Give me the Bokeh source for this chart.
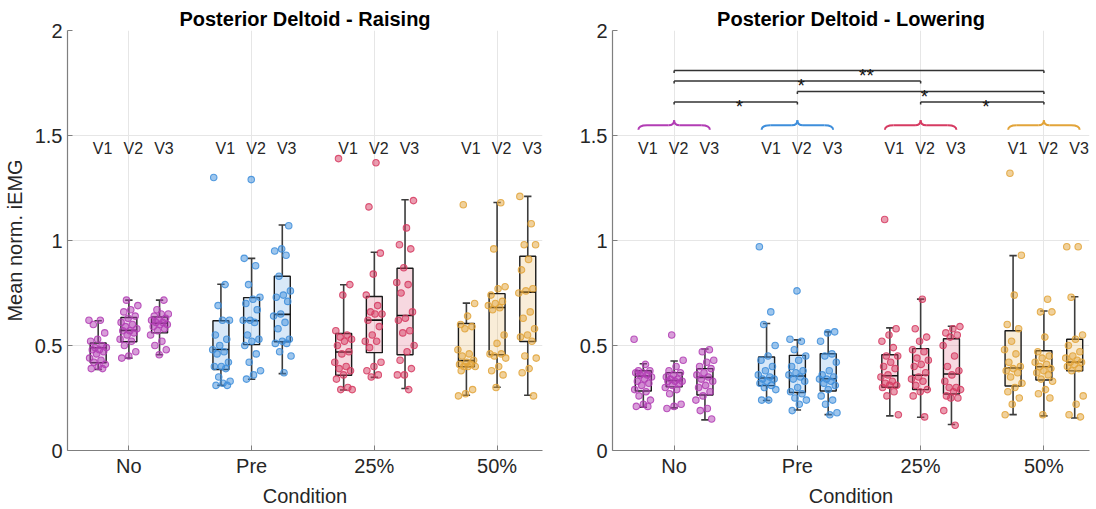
import numpy as np
from bokeh.plotting import figure
from bokeh.layouts import row
from bokeh.models import FixedTicker, CustomJSTickFormatter, Range1d
from bokeh.core.properties import value
from bokeh.embed import file_html
from bokeh.resources import INLINE

# ---------------- data ----------------
conditions = ["No", "Pre", "25%", "50%"]
visits = ["V1", "V2", "V3"]
cond_colors = ["#B23DB4", "#3E8EDB", "#D63B62", "#E2A43A"]

# Raising: individual points per condition (V1, V2, V3)
raise_no = [
    [0.62, 0.62, 0.60, 0.56, 0.53, 0.52, 0.50, 0.49, 0.49, 0.48, 0.48, 0.47, 0.46, 0.44, 0.43, 0.42, 0.41, 0.40, 0.39, 0.39],
    [0.716, 0.69, 0.67, 0.66, 0.64, 0.63, 0.61, 0.60, 0.59, 0.58, 0.57, 0.57, 0.56, 0.55, 0.53, 0.52, 0.50, 0.47, 0.45, 0.44],
    [0.716, 0.67, 0.65, 0.65, 0.64, 0.63, 0.62, 0.62, 0.61, 0.61, 0.60, 0.60, 0.59, 0.58, 0.57, 0.55, 0.52, 0.50, 0.48, 0.456],
]
raise_pre = [
    [1.30, 0.79, 0.69, 0.62, 0.62, 0.55, 0.53, 0.50, 0.48, 0.47, 0.46, 0.42, 0.40, 0.40, 0.39, 0.35, 0.33, 0.32, 0.31, 0.31],
    [1.29, 0.915, 0.88, 0.79, 0.73, 0.72, 0.70, 0.67, 0.62, 0.62, 0.61, 0.55, 0.53, 0.52, 0.50, 0.46, 0.42, 0.38, 0.36, 0.34],
    [1.07, 0.96, 0.95, 0.93, 0.83, 0.76, 0.74, 0.73, 0.71, 0.65, 0.64, 0.61, 0.58, 0.53, 0.52, 0.51, 0.51, 0.47, 0.45, 0.37],
]
raise_25 = [
    [1.39, 0.79, 0.74, 0.57, 0.55, 0.54, 0.53, 0.52, 0.50, 0.47, 0.46, 0.42, 0.40, 0.39, 0.38, 0.36, 0.34, 0.30, 0.29, 0.29],
    [1.37, 1.16, 0.94, 0.84, 0.74, 0.69, 0.66, 0.65, 0.65, 0.62, 0.59, 0.55, 0.52, 0.52, 0.49, 0.42, 0.40, 0.38, 0.36, 0.35],
    [1.19, 1.06, 0.98, 0.96, 0.87, 0.80, 0.79, 0.75, 0.66, 0.63, 0.62, 0.57, 0.56, 0.50, 0.47, 0.43, 0.39, 0.36, 0.36, 0.29],
]
raise_50 = [
    [1.17, 0.70, 0.64, 0.60, 0.59, 0.58, 0.48, 0.46, 0.45, 0.43, 0.42, 0.41, 0.41, 0.40, 0.40, 0.40, 0.38, 0.29, 0.27, 0.26],
    [1.18, 0.96, 0.78, 0.77, 0.74, 0.71, 0.70, 0.69, 0.68, 0.67, 0.55, 0.51, 0.46, 0.46, 0.45, 0.44, 0.40, 0.38, 0.36, 0.30],
    [1.21, 1.08, 0.98, 0.98, 0.91, 0.86, 0.77, 0.76, 0.75, 0.66, 0.63, 0.58, 0.55, 0.54, 0.52, 0.45, 0.44, 0.39, 0.37, 0.26],
]
# Raising box statistics, order: No V1..V3, Pre V1..V3, 25% V1..V3, 50% V1..V3
raise_q1 = [0.418, 0.518, 0.560, 0.386, 0.504, 0.518, 0.358, 0.466, 0.456, 0.399, 0.456, 0.519]
raise_med = [0.489, 0.572, 0.606, 0.481, 0.618, 0.648, 0.469, 0.621, 0.643, 0.428, 0.681, 0.754]
raise_q3 = [0.512, 0.633, 0.636, 0.618, 0.728, 0.830, 0.557, 0.733, 0.868, 0.605, 0.747, 0.925]
raise_wlo = [0.386, 0.440, 0.456, 0.310, 0.339, 0.366, 0.288, 0.348, 0.295, 0.263, 0.301, 0.263]
raise_whi = [0.618, 0.716, 0.716, 0.792, 0.915, 1.074, 0.789, 0.944, 1.194, 0.702, 1.181, 1.210]

# Lowering: individual points
lower_no = [
    [0.53, 0.41, 0.38, 0.38, 0.37, 0.37, 0.36, 0.36, 0.35, 0.34, 0.33, 0.32, 0.31, 0.29, 0.28, 0.26, 0.24, 0.22, 0.21, 0.21],
    [0.55, 0.43, 0.40, 0.38, 0.37, 0.36, 0.35, 0.34, 0.34, 0.33, 0.33, 0.33, 0.32, 0.31, 0.30, 0.29, 0.27, 0.22, 0.21, 0.20],
    [0.48, 0.47, 0.43, 0.42, 0.40, 0.39, 0.37, 0.36, 0.35, 0.34, 0.33, 0.31, 0.30, 0.28, 0.26, 0.24, 0.20, 0.19, 0.15],
]
lower_pre = [
    [0.97, 0.66, 0.60, 0.50, 0.45, 0.43, 0.40, 0.38, 0.36, 0.35, 0.34, 0.34, 0.33, 0.32, 0.31, 0.30, 0.29, 0.24, 0.24],
    [0.76, 0.53, 0.52, 0.48, 0.45, 0.43, 0.40, 0.38, 0.37, 0.36, 0.35, 0.34, 0.33, 0.30, 0.28, 0.27, 0.25, 0.24, 0.22, 0.19],
    [0.565, 0.56, 0.52, 0.46, 0.45, 0.42, 0.38, 0.36, 0.35, 0.34, 0.34, 0.33, 0.32, 0.31, 0.29, 0.26, 0.24, 0.22, 0.18, 0.17],
]
lower_25 = [
    [1.10, 0.58, 0.55, 0.52, 0.49, 0.45, 0.45, 0.42, 0.40, 0.39, 0.36, 0.35, 0.33, 0.32, 0.31, 0.31, 0.30, 0.28, 0.26, 0.17],
    [0.72, 0.58, 0.54, 0.52, 0.48, 0.47, 0.44, 0.43, 0.41, 0.40, 0.37, 0.35, 0.34, 0.33, 0.31, 0.29, 0.28, 0.26, 0.16],
    [0.59, 0.58, 0.56, 0.55, 0.54, 0.50, 0.45, 0.40, 0.38, 0.36, 0.33, 0.30, 0.30, 0.29, 0.28, 0.26, 0.25, 0.25, 0.19, 0.12],
]
lower_50 = [
    [1.32, 0.93, 0.74, 0.60, 0.58, 0.52, 0.48, 0.46, 0.42, 0.40, 0.39, 0.38, 0.37, 0.35, 0.32, 0.30, 0.28, 0.25, 0.22, 0.17],
    [0.72, 0.66, 0.66, 0.54, 0.47, 0.45, 0.44, 0.42, 0.41, 0.40, 0.39, 0.38, 0.37, 0.36, 0.34, 0.33, 0.29, 0.27, 0.25, 0.17],
    [0.97, 0.97, 0.73, 0.55, 0.53, 0.50, 0.47, 0.45, 0.44, 0.43, 0.42, 0.42, 0.41, 0.40, 0.39, 0.38, 0.26, 0.22, 0.17, 0.16],
]
lower_q1 = [0.283, 0.303, 0.264, 0.309, 0.276, 0.283, 0.301, 0.290, 0.269, 0.307, 0.336, 0.379]
lower_med = [0.355, 0.333, 0.348, 0.345, 0.355, 0.342, 0.356, 0.358, 0.364, 0.393, 0.399, 0.421]
lower_q3 = [0.380, 0.371, 0.390, 0.445, 0.453, 0.461, 0.456, 0.485, 0.532, 0.570, 0.475, 0.530]
lower_wlo = [0.206, 0.203, 0.146, 0.238, 0.193, 0.171, 0.165, 0.158, 0.124, 0.171, 0.165, 0.155]
lower_whi = [0.413, 0.426, 0.483, 0.605, 0.527, 0.565, 0.584, 0.721, 0.592, 0.928, 0.664, 0.732]

# Significance (lowering, V2 comparisons between conditions)
sig_from = [1, 1, 2, 1, 3]
sig_to = [4, 3, 4, 2, 4]
sig_level = [1.81, 1.76, 1.71, 1.66, 1.66]
sig_text = ["**", "*", "*", "*", "*"]

FONT = "Liberation Sans"
TXT = "#262626"
AX = "#7f7f7f"
OFFS = [-0.25, 0.0, 0.25]
BW = 0.13


def make_panel(title, pts, q1, med, q3, wlo, whi, ylabel, left_border, right_border, braces=False):
    p = figure(width=548, height=509, output_backend="svg", toolbar_location=None,
               x_range=Range1d(0.5, 4.37), y_range=Range1d(0, 2),
               min_border_left=left_border, min_border_right=right_border,
               min_border_top=30, min_border_bottom=58)
    p.outline_line_color = None
    p.background_fill_color = "white"
    p.border_fill_color = "white"

    p.title.text = title
    p.title.align = "center"
    p.title.text_font = FONT
    p.title.text_font_size = "20px"
    p.title.text_font_style = "bold"
    p.title.text_color = "#000000"
    p.title.standoff = 1

    p.xaxis.ticker = FixedTicker(ticks=[1, 2, 3, 4])
    p.xaxis.formatter = CustomJSTickFormatter(args=dict(labels=conditions),
                                              code="return labels[Math.round(tick)-1] || '';")
    p.yaxis.ticker = FixedTicker(ticks=[0, 0.5, 1, 1.5, 2])
    p.yaxis.formatter = CustomJSTickFormatter(code="return tick.toString();")
    for ax in (p.xaxis[0], p.yaxis[0]):
        ax.axis_line_color = AX
        ax.axis_line_width = 1.2
        ax.major_tick_line_color = AX
        ax.major_tick_in = 5
        ax.major_tick_out = 0
        ax.minor_tick_line_color = None
        ax.major_label_text_font = FONT
        ax.major_label_text_font_size = "20px"
        ax.major_label_text_color = TXT
        ax.axis_label_text_font = FONT
        ax.axis_label_text_font_size = "20px"
        ax.axis_label_text_font_style = "normal"
        ax.axis_label_text_color = TXT
    p.xaxis.major_label_standoff = 4
    p.xaxis.axis_label = "Condition"
    p.xaxis.axis_label_standoff = 5
    p.yaxis.major_label_standoff = 5
    if ylabel:
        p.yaxis.axis_label = ylabel
        p.yaxis.axis_label_standoff = 6
    p.xgrid.grid_line_color = "#e6e6e6"
    p.ygrid.grid_line_color = "#e6e6e6"

    groups = [pts[0], pts[1], pts[2], pts[3]]
    xs, cols = [], []
    for ci in range(4):
        for vi in range(3):
            xs.append(ci + 1 + OFFS[vi])
            cols.append(cond_colors[ci])
    xs = np.array(xs)
    # whiskers
    p.segment(x0=xs, y0=np.array(q3), x1=xs, y1=np.array(whi), line_color="#3c3c3c", line_width=1.6)
    p.segment(x0=xs, y0=np.array(q1), x1=xs, y1=np.array(wlo), line_color="#3c3c3c", line_width=1.6)
    p.segment(x0=xs - 0.03, y0=np.array(whi), x1=xs + 0.03, y1=np.array(whi), line_color="#3c3c3c", line_width=1.6)
    p.segment(x0=xs - 0.03, y0=np.array(wlo), x1=xs + 0.03, y1=np.array(wlo), line_color="#3c3c3c", line_width=1.6)
    # boxes
    p.quad(left=xs - BW / 2, right=xs + BW / 2, bottom=np.array(q1), top=np.array(q3),
           fill_color=cols, fill_alpha=0.2, line_color="#1a1a1a", line_width=1.4)
    p.segment(x0=xs - BW / 2, y0=np.array(med), x1=xs + BW / 2, y1=np.array(med),
              line_color="#111111", line_width=1.6)
    # points with deterministic jitter
    g = 0
    for ci in range(4):
        for vi in range(3):
            vals = np.array(groups[ci][vi])
            n = len(vals)
            jit = ((np.arange(n) * 0.6180339887 + g * 0.37) % 1.0 - 0.5) * 0.15
            px = ci + 1 + OFFS[vi] + jit
            p.scatter(px, vals, size=6.5, fill_color=cond_colors[ci], fill_alpha=0.5,
                      line_color=cond_colors[ci], line_alpha=0.85, line_width=1.1)
            g += 1
    # V labels
    lx, lt = [], []
    for ci in range(4):
        for vi in range(3):
            lx.append(ci + 1 + OFFS[vi] + 0.036)
            lt.append(visits[vi])
    p.text(x=lx, y=[1.44] * len(lx), text=lt, text_font=value(FONT), text_font_size="16px",
           text_align="center", text_baseline="middle", text_color=TXT)

    if braces:
        w, r1, r2 = 0.29, 0.07, 0.045
        yb, yf, yt = 1.527, 1.549, 1.573
        for ci in range(4):
            c = ci + 1
            col = cond_colors[ci]
            p.quadratic(x0=[c - w, c + w], y0=[yb, yb], x1=[c - w + r1, c + w - r1], y1=[yf, yf],
                        cx=[c - w, c + w], cy=[yf, yf], line_color=col, line_width=2)
            p.segment(x0=[c - w + r1, c + r2], y0=[yf, yf], x1=[c - r2, c + w - r1], y1=[yf, yf],
                      line_color=col, line_width=2)
            p.quadratic(x0=[c - r2, c + r2], y0=[yf, yf], x1=[c, c], y1=[yt, yt],
                        cx=[c, c], cy=[yf, yf], line_color=col, line_width=2)
        x0 = np.array(sig_from, dtype=float)
        x1 = np.array(sig_to, dtype=float)
        lv = np.array(sig_level)
        p.segment(x0=x0, y0=lv, x1=x1, y1=lv, line_color="#333333", line_width=1.5)
        p.segment(x0=x0, y0=lv, x1=x0, y1=lv - 0.012, line_color="#333333", line_width=1.5)
        p.segment(x0=x1, y0=lv, x1=x1, y1=lv - 0.012, line_color="#333333", line_width=1.5)
        p.text(x=(x0 + x1) / 2, y=lv - 0.024, text=sig_text, text_font=value(FONT),
               text_font_size="19px", text_align="left", text_baseline="alphabetic",
               text_color="#111111")
    return p


left = make_panel("Posterior Deltoid - Raising", [raise_no, raise_pre, raise_25, raise_50],
                  raise_q1, raise_med, raise_q3, raise_wlo, raise_whi,
                  "Mean norm. iEMG", 65, 6)
right = make_panel("Posterior Deltoid - Lowering", [lower_no, lower_pre, lower_25, lower_50],
                   lower_q1, lower_med, lower_q3, lower_wlo, lower_whi,
                   None, 64, 7, braces=True)

layout = row(left, right)
open("out.html", "w").write(file_html(layout, INLINE))
